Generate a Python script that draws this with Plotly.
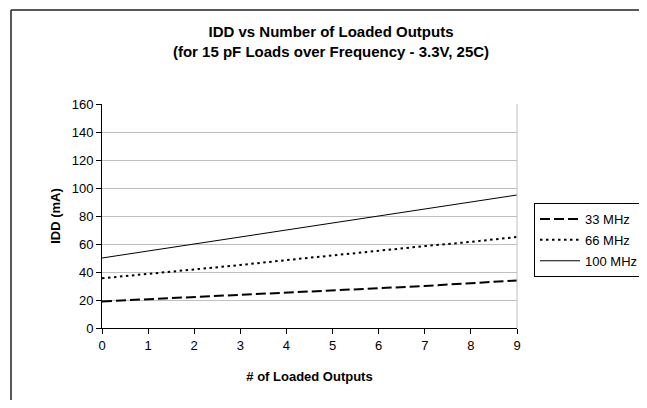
import plotly.graph_objects as go

outputs = [0, 1, 2, 3, 4, 5, 6, 7, 8, 9]
mhz33 = [19, 20.5, 22, 23.5, 25, 27, 28.5, 30, 32, 34]
mhz66 = [35.5, 38.5, 42, 45, 48.5, 52, 55.5, 58.5, 61.5, 65]
mhz100 = [50, 55, 60.5, 65.5, 70.5, 75.5, 80.5, 85, 90, 95]
series_names = ["33 MHz", "66 MHz", "100 MHz"]

FONT = "Liberation Sans, Arial, sans-serif"

fig = go.Figure()
fig.add_trace(go.Scatter(x=outputs, y=mhz33, mode="lines", name=series_names[0], legendgroup="a",
                         line=dict(color="black", width=2, dash="10px,4px")))
fig.add_trace(go.Scatter(x=outputs, y=mhz66, mode="lines", name=series_names[1], legendgroup="b",
                         line=dict(color="black", width=2, dash="2.5px,3.5px")))
fig.add_trace(go.Scatter(x=outputs, y=mhz100, mode="lines", name=series_names[2], legendgroup="c",
                         line=dict(color="black", width=1)))

# page body has an 8px margin; size the figure so the page does not overflow the window
W, H = 639, 392
L, T = 94, 96
pw, ph = 415, 224
R = W - L - pw
B = H - T - ph

fig.update_layout(
    width=W, height=H,
    margin=dict(l=L, r=R, t=T, b=B, pad=0, autoexpand=False),
    paper_bgcolor="white", plot_bgcolor="white",
    font=dict(family=FONT, size=13, color="black"),
    title=dict(
        text="<b>IDD vs Number of Loaded Outputs</b><br><b>(for 15 pF Loads over Frequency - 3.3V, 25C)</b>",
        x=323 / W, xanchor="center", y=1 - 29 / H, yanchor="top",
        font=dict(family=FONT, size=15, color="black"),
    ),
    xaxis=dict(
        range=[0, 9], tickmode="array", tickvals=outputs, ticktext=[str(v) for v in outputs],
        showline=True, linecolor="black", linewidth=1,
        ticks="outside", ticklen=5, tickcolor="black",
        showgrid=False, zeroline=False,
        title=dict(text="<b># of Loaded Outputs</b>", font=dict(size=13), standoff=20),
        tickfont=dict(size=13),
    ),
    yaxis=dict(
        range=[0, 160], dtick=20,
        showline=True, linecolor="black", linewidth=1,
        ticks="outside", ticklen=5, tickcolor="black",
        showgrid=True, gridcolor="#c0c0c0", gridwidth=1, zeroline=False,
        title=dict(text="<b>IDD (mA)</b>", font=dict(size=13), standoff=8),
        tickfont=dict(size=13),
    ),
    legend=dict(
        x=(526 - L) / pw, xanchor="left", y=(T + ph - 195) / ph, yanchor="top",
        bordercolor="black", borderwidth=1, bgcolor="white",
        font=dict(size=13), tracegroupgap=1, itemwidth=40,
    ),
    showlegend=True,
)

# gray right border of plot area
fig.add_shape(type="line", xref="paper", yref="paper", x0=1, x1=1, y0=0, y1=1,
              line=dict(color="#c0c0c0", width=1))
# outer chart border: only left and top edges are visible in the frame
bx0 = (3 - L) / pw
by1 = 1 + (T - 2) / ph
fig.add_shape(type="line", xref="paper", yref="paper",
              x0=bx0, x1=bx0, y0=-B / ph, y1=by1,
              line=dict(color="#222222", width=1.5), layer="below")
fig.add_shape(type="line", xref="paper", yref="paper",
              x0=bx0, x1=(W - L) / pw, y0=by1, y1=by1,
              line=dict(color="#222222", width=1.5), layer="below")

fig.write_html("out.html")
